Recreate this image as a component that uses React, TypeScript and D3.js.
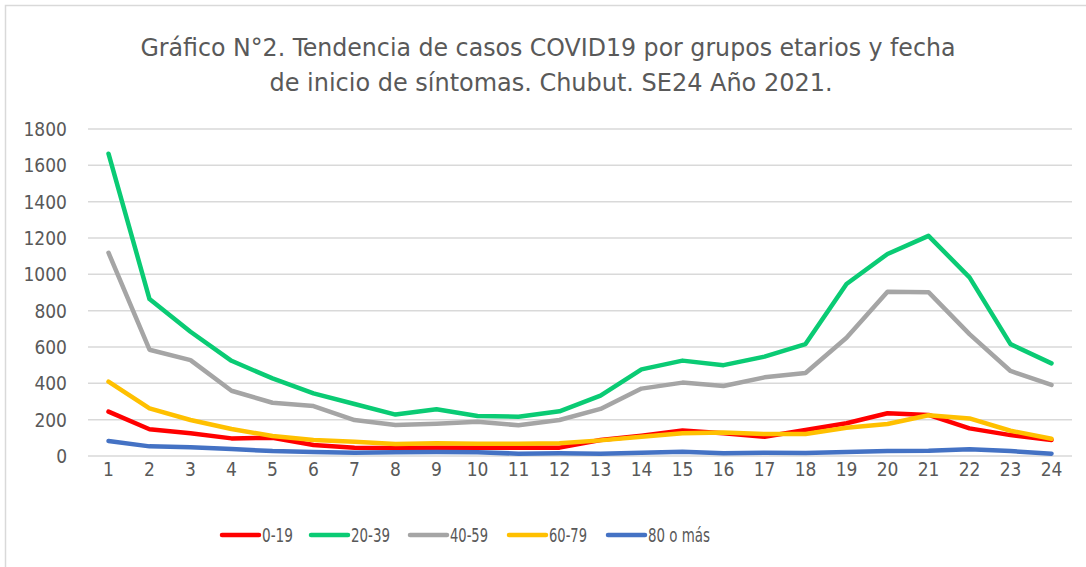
import React from "react";
import * as d3 from "d3";

const weeks = d3.range(1, 25).map(String);
const ticksY = [0, 200, 400, 600, 800, 1000, 1200, 1400, 1600, 1800];
const groups = ["0-19", "20-39", "40-59", "60-79", "80 o más"];
const colors = ["#FF0000", "#0ACB74", "#A5A5A5", "#FFC000", "#4472C4"];

const g0_19 = [244, 147, 125, 97, 100, 61, 46, 44, 46, 46, 46, 46, 88, 112, 140, 125, 106, 143, 180, 235, 226, 152, 115, 88];
const g20_39 = [1664, 864, 684, 524, 427, 345, 286, 228, 257, 220, 216, 246, 332, 477, 525, 500, 547, 616, 947, 1112, 1212, 983, 616, 510];
const g40_59 = [1119, 585, 528, 359, 293, 275, 198, 171, 178, 189, 169, 198, 259, 371, 404, 385, 433, 457, 651, 904, 902, 671, 468, 391];
const g60_79 = [409, 262, 198, 149, 110, 88, 79, 66, 70, 68, 68, 70, 86, 106, 125, 130, 121, 121, 156, 176, 224, 207, 139, 95];
const g80 = [83, 53, 48, 38, 27, 22, 18, 20, 22, 20, 13, 15, 13, 18, 24, 15, 18, 16, 22, 27, 29, 37, 27, 13];
const series = [g0_19, g20_39, g40_59, g60_79, g80];

const font = "'DejaVu Sans Condensed', 'Liberation Sans', sans-serif";
const textColor = "#595959";

export default function App() {
	const x = d3.scaleBand().domain(weeks).range([88, 1072]);
	const y = d3.scaleLinear().domain([0, 1800]).range([456, 129]);
	const line = d3
		.line<number>()
		.x((d, i) => (x(weeks[i]) as number) + x.bandwidth() / 2)
		.y(d => y(d));
	// legend layout (swatch start, label width)
	const legendX = [222, 311, 410, 509, 608];
	const legendW = [31, 39, 38, 38, 62];
	return (
		<svg
			width={1086}
			height={567}
			style={{ position: "absolute", left: 0, top: 0, background: "#fff" }}>
			<rect x={5.5} y={5.5} width={1200} height={700} fill="#fff" stroke="#D9D9D9" strokeWidth={1.5} />
			<text x={548} y={56} textAnchor="middle" fontFamily={font} fontSize={24} fill={textColor}
				textLength={815} lengthAdjust="spacingAndGlyphs">
				Gráfico N°2. Tendencia de casos COVID19 por grupos etarios y fecha
			</text>
			<text x={551} y={91} textAnchor="middle" fontFamily={font} fontSize={24} fill={textColor}
				textLength={563} lengthAdjust="spacingAndGlyphs">
				de inicio de síntomas. Chubut. SE24 Año 2021.
			</text>
			{ticksY.map(t => (
				<g key={t}>
					<line x1={88} x2={1072} y1={y(t)} y2={y(t)} stroke="#D9D9D9" strokeWidth={1.5} />
					<text x={67} y={y(t)} dy="0.36em" textAnchor="end" fontFamily={font} fontSize={19} fill={textColor}>
						{t}
					</text>
				</g>
			))}
			{weeks.map(w => (
				<text key={w} x={(x(w) as number) + x.bandwidth() / 2} y={476} textAnchor="middle"
					fontFamily={font} fontSize={19} fill={textColor}>
					{w}
				</text>
			))}
			{series.map((s, i) => (
				<path key={groups[i]} d={line(s) || ""} fill="none" stroke={colors[i]} strokeWidth={4.5}
					strokeLinejoin="round" strokeLinecap="round" />
			))}
			{groups.map((g, i) => (
				<g key={g}>
					<line x1={legendX[i]} x2={legendX[i] + 37} y1={535} y2={535} stroke={colors[i]} strokeWidth={4.5}
						strokeLinecap="round" />
					<text x={legendX[i] + 40} y={535} dy="0.36em" fontFamily={font} fontSize={19} fill={textColor}
						textLength={legendW[i]} lengthAdjust="spacingAndGlyphs">
						{g}
					</text>
				</g>
			))}
		</svg>
	);
}
